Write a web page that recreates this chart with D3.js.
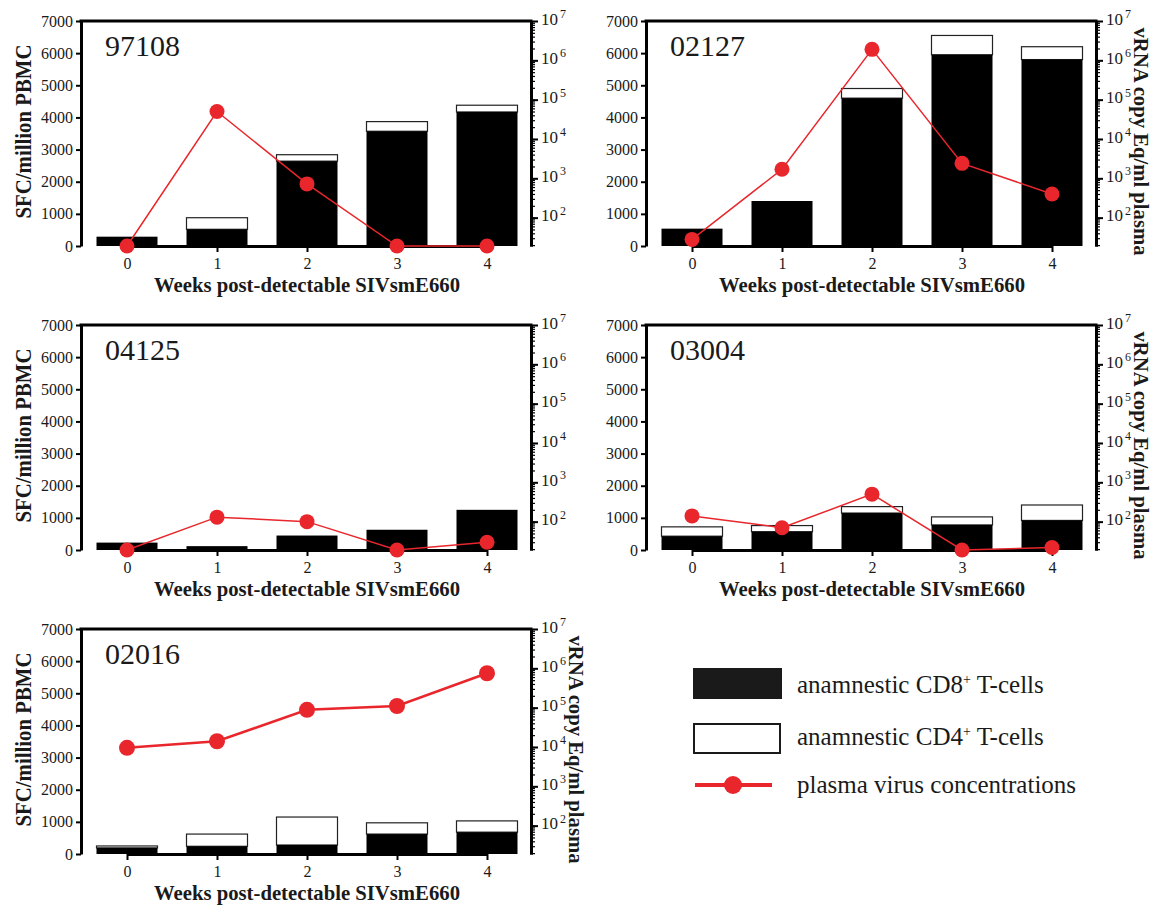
<!DOCTYPE html>
<html lang="en">
<head>
<meta charset="UTF-8">
<title>Anamnestic T-cell responses and plasma virus</title>
<script src="https://d3js.org/d3.v7.min.js"></script>
<style>
  body { margin: 0; background: #fff; }
  svg text { font-family: "Liberation Serif", "Times New Roman", serif !important; fill: #1a1a1a; }
</style>
</head>
<body>
<svg width="1156" height="905"></svg>
<script>
    const weeks = [0, 1, 2, 3, 4];
    const animals = ["97108", "02127", "04125", "03004", "02016"];

    // SFC/million PBMC, anamnestic CD8+ T-cells (black part of bars)
    const cd8_97108 = [290, 520, 2640, 3570, 4170];
    const cd8_02127 = [540, 1400, 4600, 5950, 5800];
    const cd8_04125 = [230, 120, 450, 630, 1250];
    const cd8_03004 = [430, 570, 1150, 780, 920];
    const cd8_02016 = [190, 240, 280, 620, 680];

    // SFC/million PBMC, anamnestic CD4+ T-cells (white part stacked on top)
    const cd4_97108 = [0, 360, 200, 300, 210];
    const cd4_02127 = [0, 0, 300, 600, 400];
    const cd4_04125 = [0, 0, 0, 0, 0];
    const cd4_03004 = [290, 190, 200, 250, 480];
    const cd4_02016 = [60, 380, 870, 350, 350];

    // vRNA copy Eq/ml plasma (null = below detection, drawn on the axis floor)
    const vir_97108 = [null, 50000, 720, null, null];
    const vir_02127 = [28, 1700, 1.9e6, 2400, 400];
    const vir_04125 = [null, 130, 100, null, 30];
    const vir_03004 = [140, 70, 500, null, 22];
    const vir_02016 = [9500, 14000, 88000, 110000, 750000];

    const sfcTicks = [0, 1000, 2000, 3000, 4000, 5000, 6000, 7000];
    const logTicks = [1e2, 1e3, 1e4, 1e5, 1e6, 1e7];
    const logDomain = [19, 1e7];

    const panels = [
        {id: animals[0], cd8: cd8_97108, cd4: cd4_97108, vir: vir_97108, left: 81, top: 21, leftTitle: true, rightTitle: false, lw: 1.5},
        {id: animals[1], cd8: cd8_02127, cd4: cd4_02127, vir: vir_02127, left: 646, top: 21, leftTitle: false, rightTitle: true, lw: 1.5},
        {id: animals[2], cd8: cd8_04125, cd4: cd4_04125, vir: vir_04125, left: 81, top: 325, leftTitle: true, rightTitle: false, lw: 1.5},
        {id: animals[3], cd8: cd8_03004, cd4: cd4_03004, vir: vir_03004, left: 646, top: 325, leftTitle: false, rightTitle: true, lw: 1.5},
        {id: animals[4], cd8: cd8_02016, cd4: cd4_02016, vir: vir_02016, left: 81, top: 629, leftTitle: true, rightTitle: true, lw: 2.5}
    ];

    const red = "#e8262b";
    const pw = 450, ph = 225, barW = 61;
    const svg = d3.select("svg");

    function sup(sel, base, exp) {
        sel.text(null);
        sel.append("tspan").attr("font-size", 17).text(base);
        sel.append("tspan").attr("dy", "-0.55em").attr("dx", 2).attr("font-size", 12).text(exp);
    }

    panels.forEach(function(p) {
        const g = svg.append("g").attr("transform", `translate(${p.left},${p.top})`);
        const x = d3.scalePoint().domain(weeks).range([46, 406]);
        const y = d3.scaleLinear().domain([0, 7000]).range([ph, 0]);
        const yv = d3.scaleLog().domain(logDomain).range([ph, 0]);

        const rows = weeks.map((w, i) => ({week: w, cd8: p.cd8[i], cd4: p.cd4[i], vir: p.vir[i]}));

        // bars: black CD8, white CD4 stacked on top
        g.selectAll(".cd4").data(rows.filter(d => d.cd4 > 0)).enter()
            .append("rect")
            .attr("x", d => x(d.week) - barW / 2)
            .attr("y", d => y(d.cd8 + d.cd4))
            .attr("width", barW)
            .attr("height", d => y(d.cd8) - y(d.cd8 + d.cd4))
            .attr("fill", "#fff").attr("stroke", "#222").attr("stroke-width", 1.2);
        g.selectAll(".cd8").data(rows).enter()
            .append("rect")
            .attr("x", d => x(d.week) - barW / 2)
            .attr("y", d => y(d.cd8))
            .attr("width", barW)
            .attr("height", d => ph - y(d.cd8))
            .attr("fill", "#000");

        // axes
        const ax = g.append("g").attr("transform", `translate(0,${ph})`)
            .call(d3.axisBottom(x).tickSize(6).tickSizeOuter(0).tickPadding(6));
        const ay = g.append("g")
            .call(d3.axisLeft(y).tickValues(sfcTicks).tickSize(5).tickSizeOuter(0).tickPadding(3).tickFormat(d3.format("d")));
        const minor = g.append("g").attr("transform", `translate(${pw},0)`)
            .call(d3.axisRight(yv).tickValues(yv.ticks()).tickSize(4).tickSizeOuter(0).tickFormat(""));
        const major = g.append("g").attr("transform", `translate(${pw},0)`)
            .call(d3.axisRight(yv).tickValues(logTicks).tickSize(7).tickSizeOuter(0).tickPadding(3).tickFormat(""));
        major.selectAll(".tick text").each(function(d) {
            sup(d3.select(this), "10", String(Math.round(Math.log10(d))));
        });

        [ax, ay, minor, major].forEach(a => {
            a.attr("font-family", null);
            a.selectAll(".domain").attr("stroke", "#000").attr("stroke-width", 3);
            a.selectAll(".tick line").attr("stroke", "#000").attr("stroke-width", 2);
        });
        ax.selectAll("text").attr("font-size", 16);
        ay.selectAll("text").attr("font-size", 16);
        minor.selectAll(".tick line").attr("stroke-width", 1.2);
        g.append("line").attr("x1", -1.5).attr("x2", pw + 1.5).attr("y1", 0).attr("y2", 0)
            .attr("stroke", "#000").attr("stroke-width", 3);

        // virus line + points
        const vy = d => yv(d.vir == null ? logDomain[0] : d.vir);
        g.append("path").datum(rows)
            .attr("fill", "none").attr("stroke", red).attr("stroke-width", p.lw)
            .attr("d", d3.line().x(d => x(d.week)).y(vy));
        g.selectAll(".pt").data(rows).enter()
            .append("circle")
            .attr("cx", d => x(d.week)).attr("cy", vy)
            .attr("r", p.lw > 2 ? 8 : 7.5).attr("fill", red);

        // texts
        g.append("text").attr("x", 24).attr("y", 35).attr("font-size", 30).text(p.id);
        g.append("text").attr("x", x(2)).attr("y", ph + 46)
            .attr("text-anchor", "middle").attr("font-size", 22).attr("font-weight", "bold")
            .attr("textLength", 306).attr("lengthAdjust", "spacingAndGlyphs")
            .text("Weeks post-detectable SIVsmE660");
        if (p.leftTitle) {
            g.append("text").attr("transform", `translate(-50,${ph / 2 - 2}) rotate(-90)`)
                .attr("text-anchor", "middle").attr("font-size", 23).attr("font-weight", "bold")
                .attr("textLength", 174).attr("lengthAdjust", "spacingAndGlyphs")
                .text("SFC/million PBMC");
        }
        if (p.rightTitle) {
            g.append("text").attr("transform", `translate(${pw + 38},${ph / 2 + 8}) rotate(90)`)
                .attr("text-anchor", "middle").attr("font-size", 20).attr("font-weight", "bold")
                .attr("textLength", 228).attr("lengthAdjust", "spacingAndGlyphs")
                .text("vRNA copy Eq/ml plasma");
        }
    });

    // legend
    const leg = svg.append("g");
    leg.append("rect").attr("x", 693).attr("y", 668).attr("width", 89).attr("height", 31).attr("fill", "#1a1a1a");
    leg.append("rect").attr("x", 694).attr("y", 724).attr("width", 86).attr("height", 29)
        .attr("fill", "#fff").attr("stroke", "#1a1a1a").attr("stroke-width", 2);
    leg.append("line").attr("x1", 695).attr("x2", 772).attr("y1", 785).attr("y2", 785)
        .attr("stroke", red).attr("stroke-width", 4);
    leg.append("circle").attr("cx", 733).attr("cy", 785).attr("r", 9).attr("fill", red);

    const legText = [
        {y: 693, pre: "anamnestic CD8", sup: "+", post: " T-cells"},
        {y: 745, pre: "anamnestic CD4", sup: "+", post: " T-cells"},
        {y: 793, pre: "plasma virus concentrations", sup: "", post: ""}
    ];
    legText.forEach(function(t) {
        const tx = leg.append("text").attr("x", 797).attr("y", t.y).attr("font-size", 25);
        tx.append("tspan").text(t.pre);
        if (t.sup) {
            tx.append("tspan").attr("dy", -9).attr("font-size", 14).text(t.sup);
            tx.append("tspan").attr("dy", 9).text(t.post);
        }
    });
</script>
</body>
</html>
